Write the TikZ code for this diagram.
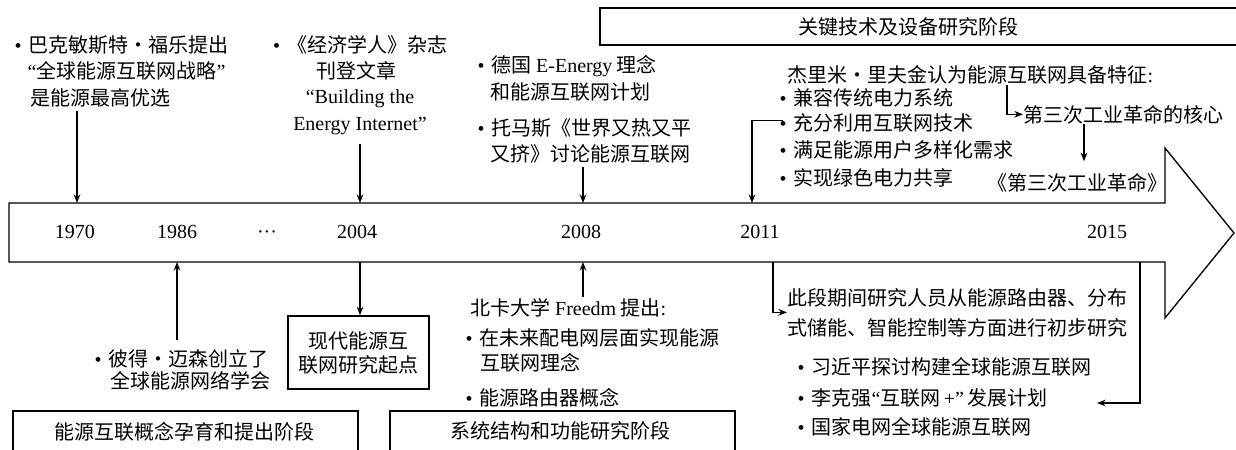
\documentclass[tikz,border=0pt]{standalone}
\usepackage{fontspec}
\setmainfont{Noto Sans CJK SC}
\newfontfamily\lat{Liberation Serif}
\usetikzlibrary{arrows.meta,calc}
\newcommand\bul{\makebox[10.5pt][l]{\lat\textbullet}}
\begin{document}
\begin{tikzpicture}[x=0.75pt,y=-0.75pt,
  font=\fontsize{15pt}{18pt}\selectfont, line width=1pt,
  t/.style={anchor=base west,inner sep=0pt},
  tc/.style={anchor=base,inner sep=0pt},
  yr/.style={anchor=base,inner sep=0pt,font=\fontsize{15pt}{18pt}\selectfont\lat},
  arr/.style={-{Stealth[length=6.5pt,width=5pt]}}]
\clip (0,0) rectangle (1236,450);
% big timeline arrow
\draw (9,203) -- (1165,203) -- (1165,148) -- (1234,233) -- (1165,318) -- (1165,262) -- (9,262) -- cycle;
% coordinates on the timeline
\foreach \n/\x in {1970/77,1986/177,2004/360,2008/583,2011/752,2015/1140}{
  \coordinate (top\n) at (\x,203);
  \coordinate (bot\n) at (\x,262);
}
\coordinate (bot2011) at (773,262);
% years
\node[yr] (y1970) at (75,238) {1970};
\node[yr] (y1986) at (177,238) {1986};
\node[yr] (ydots) at (267,238) {···};
\node[yr] (y2004) at (357,238) {2004};
\node[yr] (y2008) at (581,238) {2008};
\node[yr] (y2011) at (760,238) {2011};
\node[yr] (y2015) at (1107,238) {2015};
% phase boxes
\draw (600,8) rectangle (1240,45);
\node[inner sep=0pt] (p3) at (908,27) {关键技术及设备研究阶段};
\draw (13,411) rectangle (358,460);
\node[inner sep=0pt] (p1) at (185,432) {能源互联概念孕育和提出阶段};
\draw (390,411) rectangle (735,460);
\node[inner sep=0pt] (p2) at (560,431) {系统结构和功能研究阶段};
% 1970
\node[t] (a1) at (14,52) {\bul 巴克敏斯特・福乐提出};
\node[t] (a2) at (27,78) {{\lat “}全球能源互联网战略{\lat ”}};
\node[t] (a3) at (30,105) {是能源最高优选};
\draw[arr] (top1970 |- a3.south) ++(0,4) -- (top1970);
% 2004 top
\node[tc] (b1) at (360,52) {\bul《经济学人》杂志};
\node[tc] (b2) at (356,78) {刊登文章};
\node[tc,font=\fontsize{15pt}{18pt}\selectfont\lat] (b3) at (360,103) {“Building the};
\node[tc,font=\fontsize{15pt}{18pt}\selectfont\lat] (b4) at (360,130) {Energy Internet”};
\draw[arr,shorten <=7pt] (top2004 |- b4.south) -- (top2004);
% 2008 top
\node[t] (c1) at (477,72) {\bul 德国 {\lat E-Energy} 理念};
\node[t] (c2) at (490,99) {和能源互联网计划};
\node[t] (c3) at (477,135) {\bul 托马斯《世界又热又平};
\node[t] (c4) at (490,161) {又挤》讨论能源互联网};
\draw[arr,shorten <=3pt] (top2008 |- c4.south) -- (top2008);
% 2011 top (Rifkin)
\node[t] (d0) at (787,82) {杰里米・里夫金认为能源互联网具备特征{\lat :}};
\node[t] (d1) at (779,105) {\bul 兼容传统电力系统};
\node[t] (d2) at (779,130) {\bul 充分利用互联网技术};
\node[t] (d3) at (779,157) {\bul 满足能源用户多样化需求};
\node[t] (d4) at (779,185) {\bul 实现绿色电力共享};
\draw[arr] (d2.west) ++(4,-2) -| (top2011);
\node[t] (e) at (1023,122) {第三次工业革命的核心};
\node[t] (f) at (987,190) {《第三次工业革命》};
\coordinate (rk) at (1007,85);
\draw[arr] (rk) |- (e.west);
\coordinate (ek) at (1084,124);
\draw[arr] (ek) -- ($(ek |- f.north)+(0,-11)$);
% 1986 bottom
\node[t] (g1) at (94,366) {\bul 彼得・迈森创立了};
\node[t] (g2) at (110,388) {全球能源网络学会};
\draw[arr,shorten <=6pt] (bot1986 |- g1.north) -- (bot1986);
% 2004 bottom box
\node[draw,align=center,inner sep=0pt,minimum width=141*0.75pt,minimum height=73*0.75pt] (h) at (358.5,352.5) {现代能源互\\联网研究起点};
\draw[arr] (bot2004) -- (bot2004 |- h.north);
% 2008 bottom
\node[t] (i1) at (470,315) {北卡大学 {\lat Freedm} 提出{\lat :}};
\node[t] (i2) at (465,345) {\bul 在未来配电网层面实现能源};
\node[t] (i3) at (480,370) {互联网理念};
\node[t] (i4) at (465,405) {\bul 能源路由器概念};
\draw[arr] (bot2008 |- i1.north) -- (bot2008);
% 2011 bottom
\node[t] (j1) at (787,305) {此段期间研究人员从能源路由器、分布};
\node[t] (j2) at (787,335) {式储能、智能控制等方面进行初步研究};
\node[t] (j3) at (797,374) {\bul 习近平探讨构建全球能源互联网};
\node[t] (j4) at (797,405) {\bul 李克强{\lat “}互联网{\lat\,+”}\,发展计划};
\node[t] (j5) at (797,434) {\bul 国家电网全球能源互联网};
\draw[arr] (bot2011) |- ($(j1.west)!0.5!(j2.west)$);
% 2015 bottom
\coordinate (k2) at (1097,403);
\draw[arr] (bot2015) |- (k2);
\end{tikzpicture}
\end{document}
